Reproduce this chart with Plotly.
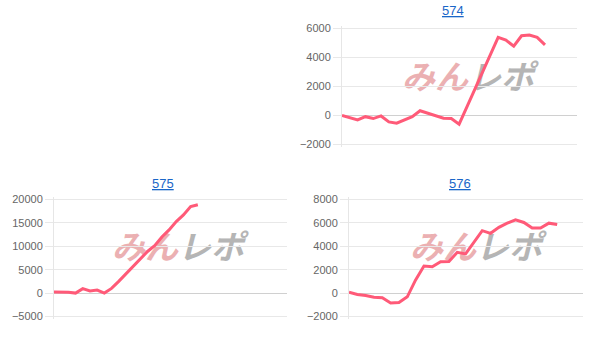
import plotly.graph_objects as go

titles = ["574", "575", "576"]
vals_574 = [0, -150, -300, -80, -210, -30, -440, -530, -300, -80, 330, 150, -30, -190,
            -210, -600, 600, 1800, 3000, 4200, 5390, 5200, 4780, 5500, 5550, 5390, 4870]
vals_575 = [250, 250, 200, 0, 950, 450, 650, 0, 1000, 2500, 4100, 5700, 7300, 8900,
            10150, 12000, 13500, 15300, 16700, 18500, 18900]
vals_576 = [70, -120, -200, -350, -400, -850, -800, -320, 1130, 2310, 2250, 2680, 2700,
            3490, 3350, 4360, 5340, 5110, 5620, 5980, 6260, 6040, 5560, 5560, 5980, 5870]
series = [vals_574, vals_575, vals_576]
y_ranges = [[-2000, 6000], [-5000, 20000], [-2000, 8000]]
y_dticks = [2000, 5000, 2000]
x_ranges = [[0, 30.1], [0, 32.4], [0, 28.1]]

W, H = 604, 347
# plot areas in pixels: (left, right, top, bottom)
areas = [(342, 577, 26, 144), (54, 287, 200, 319), (349, 583, 200, 319)]
title_pos = [(452.5, 8), (163, 184), (460, 184)]
wm_pos = [(468, 78), (178, 251), (476, 251)]

LINE = "rgb(255,90,120)"
GRID = "#e8e8e8"
PADPX = 3

fig = go.Figure()
layout = dict(width=W, height=H, margin=dict(l=0, r=0, t=0, b=0),
              paper_bgcolor="white", plot_bgcolor="white", showlegend=False,
              font=dict(family="Liberation Sans, Arial, sans-serif", size=11, color="#666"))
annotations = []
shapes = []
for i, vals in enumerate(series):
    sfx = "" if i == 0 else str(i + 1)
    l, r, t, b = areas[i]
    lo, hi = y_ranges[i]
    ppx = (hi - lo) / (b - t)
    fig.add_trace(go.Scatter(x=list(range(len(vals))), y=vals, mode="lines",
                             line=dict(color=LINE, width=3),
                             xaxis="x" + sfx, yaxis="y" + sfx, hoverinfo="skip"))
    layout["xaxis" + sfx] = dict(domain=[l / W, r / W], range=x_ranges[i],
                                 showgrid=False, zeroline=False, showline=False,
                                 showticklabels=False, anchor="y" + sfx, fixedrange=True)
    layout["yaxis" + sfx] = dict(domain=[1 - (b + PADPX) / H, 1 - (t - PADPX) / H],
                                 range=[lo - PADPX * ppx, hi + PADPX * ppx],
                                 dtick=y_dticks[i], tick0=0, showgrid=True, gridcolor=GRID,
                                 gridwidth=1, zeroline=True, zerolinecolor="#d0d0d0",
                                 zerolinewidth=1, showline=True, linecolor="#e6e6e6",
                                 ticks="outside", ticklen=8, tickcolor=GRID,
                                 tickformat="d", exponentformat="none",
                                 tickfont=dict(size=11, color="#666666"),
                                 anchor="x" + sfx, fixedrange=True)
    tx, ty = title_pos[i]
    annotations.append(dict(text="<u>" + titles[i] + "</u>", x=tx / W, y=1 - ty / H,
                            xref="paper", yref="paper", showarrow=False,
                            xanchor="center", yanchor="middle",
                            font=dict(size=13, color="#1a66c8")))
    wx, wy = wm_pos[i]
    shapes.append(dict(type="rect", xref="paper", yref="paper",
                       x0=(wx - 75) / W, x1=(wx + 75) / W,
                       y0=1 - (wy + 16) / H, y1=1 - (wy - 16) / H,
                       line=dict(width=0), fillcolor="rgba(0,0,0,0)", layer="below",
                       label=dict(text="<b><i><span style='color:#ebb0b2'>みん</span>"
                                       "<span style='color:#b5b5b5'>レポ</span></i></b>",
                                  textposition="middle center",
                                  font=dict(family="Noto Sans CJK JP", size=33))))
layout["annotations"] = annotations
layout["shapes"] = shapes
fig.update_layout(**layout)
fig.write_html("out.html")
